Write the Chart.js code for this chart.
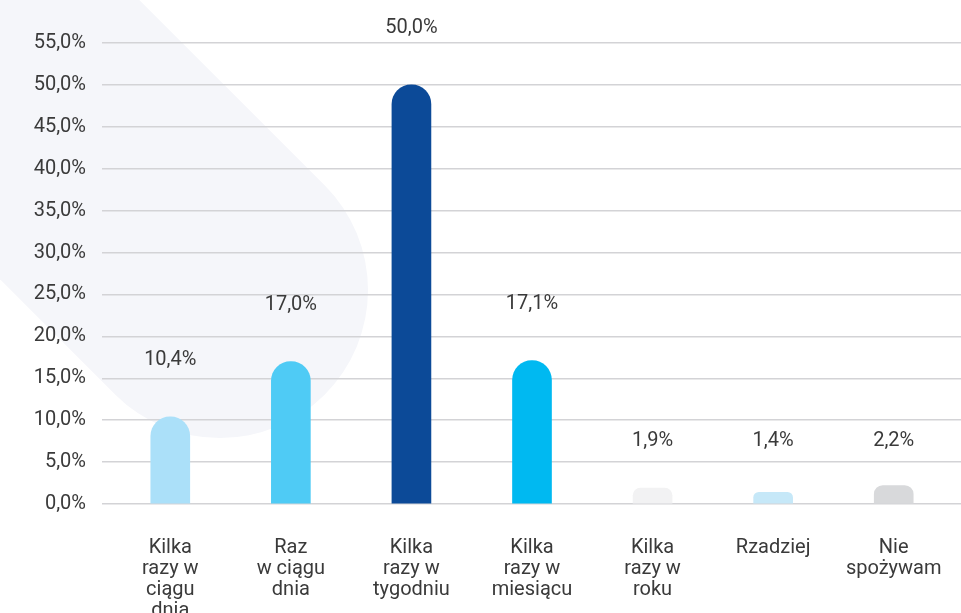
<!DOCTYPE html>
<html>
<head>
<meta charset="utf-8">
<script src="https://cdn.jsdelivr.net/npm/chart.js@4/dist/chart.umd.min.js"></script>
<style>
  html, body { margin: 0; padding: 0; background: #fff; }
  #wrap { width: 961px; height: 613px; position: relative; }
</style>
</head>
<body>
<div id="wrap"><canvas id="freqChart"></canvas></div>
<script>
const categories = [
    ['Kilka', 'razy w', 'ciągu', 'dnia'],
    ['Raz', 'w ciągu', 'dnia'],
    ['Kilka', 'razy w', 'tygodniu'],
    ['Kilka', 'razy w', 'miesiącu'],
    ['Kilka', 'razy w', 'roku'],
    ['Rzadziej'],
    ['Nie', 'spożywam']
];
const shares = [10.4, 17.0, 50.0, 17.1, 1.9, 1.4, 2.2];
const barColors = ['#abe0f9', '#4fcbf5', '#0c4a98', '#00b9f1', '#f2f2f3', '#c6e8f8', '#d8d9db'];
const yTicks = { min: 0, max: 55, step: 5 };

const FONT = 'Roboto';
const SIZE = 20;
const TEXT = '#3a3a3a';
const GRID = '#d3d3d6';

const pct = v => v.toFixed(1).replace('.', ',') + '%';

// soft capsule shape behind the left part of the plot
const backdrop = {
    id: 'backdrop',
    beforeDraw(chart) {
        const ctx = chart.ctx;
        ctx.save();
        ctx.strokeStyle = '#f5f6fa';
        ctx.lineWidth = 296;
        ctx.lineCap = 'round';
        ctx.beginPath();
        ctx.moveTo(220, 290);
        ctx.lineTo(-300, -230);
        ctx.stroke();
        ctx.restore();
    }
};

// percentage above each bar
const valueLabels = {
    id: 'valueLabels',
    afterDatasetsDraw(chart) {
        const ctx = chart.ctx;
        const y = chart.scales.y;
        const meta = chart.getDatasetMeta(0);
        ctx.save();
        ctx.font = SIZE + 'px ' + FONT;
        ctx.fillStyle = TEXT;
        ctx.textAlign = 'center';
        ctx.textBaseline = 'middle';
        meta.data.forEach((bar, i) => {
            const v = shares[i];
            const at = v < 5 ? 7.5 : v + 6.8;
            ctx.fillText(pct(v), bar.x, y.getPixelForValue(at));
        });
        ctx.restore();
    }
};

const ctx = document.getElementById('freqChart');

new Chart(ctx, {
    type: 'bar',
    data: {
        labels: categories,
        datasets: [{
            data: shares,
            backgroundColor: barColors,
            barThickness: 39,
            borderRadius: { topLeft: 20, topRight: 20, bottomLeft: 0, bottomRight: 0 },
            borderSkipped: false
        }]
    },
    options: {
        responsive: true,
        maintainAspectRatio: false,
        animation: false,
        layout: { padding: { top: 43, left: 0, right: 0, bottom: 0 } },
        scales: {
            x: {
                grid: { display: false },
                border: { display: false },
                ticks: {
                    color: TEXT,
                    font: { family: FONT, size: SIZE, lineHeight: 1.05 },
                    padding: 25,
                    maxRotation: 0,
                    autoSkip: false
                },
                afterFit(scale) {
                    scale.height = 109;
                    // long last label shouldn't shrink the plot
                    scale.paddingLeft = 0;
                    scale.paddingRight = 0;
                }
            },
            y: {
                min: yTicks.min,
                max: yTicks.max,
                grid: { color: GRID, lineWidth: 1.5, tickLength: 8, drawTicks: true },
                border: { display: false },
                ticks: {
                    stepSize: yTicks.step,
                    color: TEXT,
                    font: { family: FONT, size: SIZE },
                    padding: 16,
                    callback: v => pct(v)
                },
                afterFit(scale) { scale.width = 110; }
            },
            yRight: {
                position: 'right',
                min: yTicks.min,
                max: yTicks.max,
                grid: { color: GRID, lineWidth: 1.5, tickLength: 7, drawOnChartArea: false },
                border: { display: false },
                ticks: { stepSize: yTicks.step, display: false },
                afterFit(scale) { scale.width = 7; }
            }
        },
        plugins: {
            legend: { display: false },
            tooltip: { enabled: false }
        }
    },
    plugins: [backdrop, valueLabels]
});
</script>
</body>
</html>
